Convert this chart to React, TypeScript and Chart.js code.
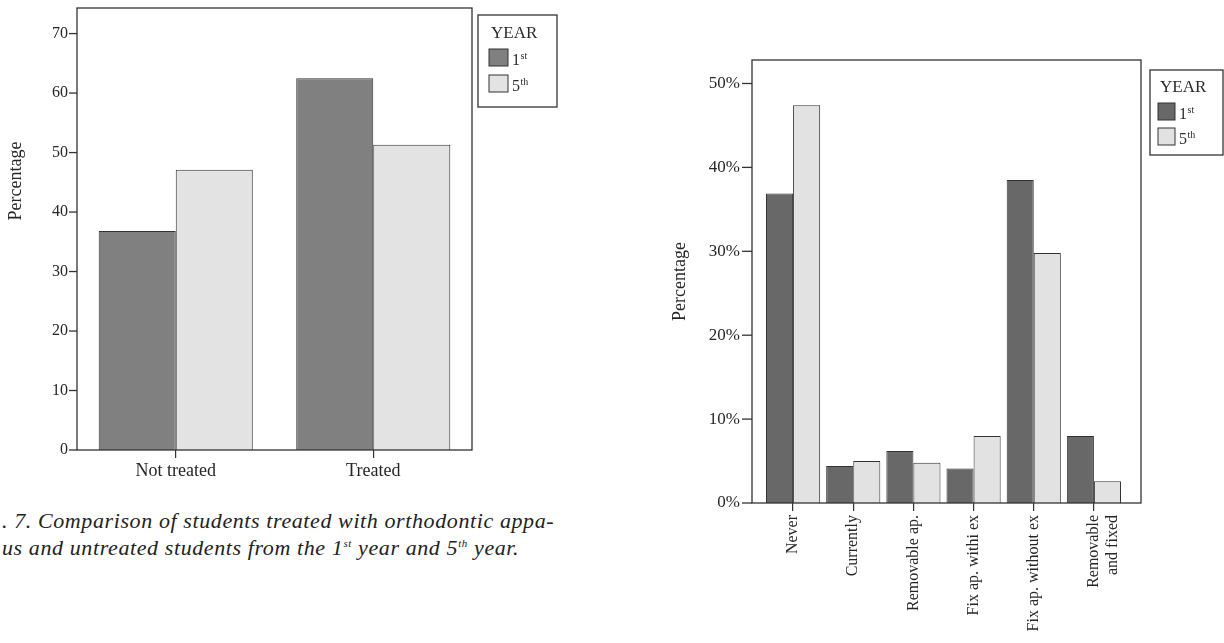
import React, { useEffect, useRef } from "react";
import { Chart, registerables } from "chart.js";

Chart.register(...registerables);

// ---------- data ----------
const legendTitle = "YEAR";
const seriesLabels = ["1st", "5th"];
const axisTitle = "Percentage";

const treatCategories = ["Not treated", "Treated"];
const treatFirst = [36.8, 62.5];
const treatFifth = [47.1, 51.3];
const treatTickValues = [0, 10, 20, 30, 40, 50, 60, 70];

const applianceCategories: (string | string[])[] = [
  "Never",
  "Currently",
  "Removable ap.",
  "Fix ap. withi ex",
  "Fix ap. without ex",
  ["Removable", "and fixed"],
];
const applianceFirst = [36.9, 4.4, 6.2, 4.1, 38.5, 8.0];
const applianceFifth = [47.4, 5.0, 4.8, 8.0, 29.8, 2.6];
const applianceTickValues = [0, 10, 20, 30, 40, 50];

const captionLine1 = ". 7. Comparison of students treated with orthodontic appa-";
const captionLine2a = "us and untreated students from the 1";
const captionLine2b = " year and 5";
const captionLine2c = " year.";

const SERIF = '"Liberation Serif", "DejaVu Serif", serif';

type LegendSpec = {
  gap: number;
  top: number;
  width: number;
  height: number;
  titleX: number;
  titleDy: number;
  titleSize: number;
  swatchX: number;
  swatchDy: number;
  swatchStep: number;
  swatchW: number;
  swatchH: number;
  labelX: number;
  labelSize: number;
};

type Opts = {
  labels: any[];
  first: number[];
  fifth: number[];
  colors: [string, string];
  tickValues: number[];
  yMax: number;
  percent: boolean;
  catPct: number;
  padding: { left: number; right: number; top: number; bottom: number };
  yWidth: number;
  xHeight: number;
  insetL: number;
  insetR: number;
  yTickLen: number;
  yTickFont: number;
  yTickPad: number;
  titleFont: number;
  titleX: number;
  titleY: number | null;
  xTickFont: number;
  xTickLen: number;
  xTickPad: number;
  rotate: boolean;
  legend: LegendSpec;
};

function framePlugin(o: Opts) {
  const legend = o.legend;
  return {
    id: "frameLegend",
    afterDraw(chart: any) {
      const ctx: CanvasRenderingContext2D = chart.ctx;
      const { left, right, top, bottom } = chart.chartArea;
      const fl = left - o.insetL;
      const fr = right + o.insetR;
      ctx.save();
      ctx.strokeStyle = "#333";
      ctx.lineWidth = 1.3;
      ctx.strokeRect(fl, top, fr - fl, bottom - top);
      const ys = chart.scales.y;
      ys.ticks.forEach((t: any) => {
        const y = ys.getPixelForValue(t.value);
        ctx.beginPath();
        ctx.moveTo(fl - o.yTickLen, y);
        ctx.lineTo(fl, y);
        ctx.stroke();
      });
      // axis title
      ctx.save();
      const ty = o.titleY == null ? (top + bottom) / 2 : o.titleY;
      ctx.translate(o.titleX, ty);
      ctx.rotate(-Math.PI / 2);
      ctx.fillStyle = "#262626";
      ctx.font = `${o.titleFont}px ${SERIF}`;
      ctx.textAlign = "center";
      ctx.textBaseline = "middle";
      ctx.fillText(axisTitle, 0, 0);
      ctx.restore();
      // legend
      const lx = fr + legend.gap;
      const ly = legend.top;
      ctx.lineWidth = 1.3;
      ctx.strokeStyle = "#333";
      ctx.strokeRect(lx, ly, legend.width, legend.height);
      ctx.fillStyle = "#2a2a2a";
      ctx.textBaseline = "alphabetic";
      ctx.textAlign = "left";
      ctx.font = `${legend.titleSize}px ${SERIF}`;
      ctx.fillText(legendTitle, lx + legend.titleX, ly + legend.titleDy);
      chart.data.datasets.forEach((ds: any, i: number) => {
        const sx = lx + legend.swatchX;
        const sy = ly + legend.swatchDy + i * legend.swatchStep;
        ctx.fillStyle = ds.backgroundColor;
        ctx.fillRect(sx, sy, legend.swatchW, legend.swatchH);
        ctx.lineWidth = 1;
        ctx.strokeStyle = "#333";
        ctx.strokeRect(sx, sy, legend.swatchW, legend.swatchH);
        const m = /^(\d+)(.*)$/.exec(String(ds.label));
        const base = m ? m[1] : String(ds.label);
        const sup = m ? m[2] : "";
        const bx = lx + legend.labelX;
        const by = sy + legend.swatchH - 1;
        ctx.fillStyle = "#2a2a2a";
        ctx.font = `${legend.labelSize}px ${SERIF}`;
        ctx.fillText(base, bx, by);
        const bw = ctx.measureText(base).width;
        ctx.font = `${Math.round(legend.labelSize * 0.6)}px ${SERIF}`;
        ctx.fillText(sup, bx + bw + 0.5, by - legend.labelSize * 0.4);
      });
      ctx.restore();
    },
  };
}

function makeConfig(o: Opts): any {
  const mk = (label: string, data: number[], color: string) => ({
    label,
    data,
    backgroundColor: color,
    borderColor: "#333",
    borderWidth: 1,
    barPercentage: 1,
    categoryPercentage: o.catPct,
  });
  return {
    type: "bar",
    data: {
      labels: o.labels,
      datasets: [
        mk(seriesLabels[0], o.first, o.colors[0]),
        mk(seriesLabels[1], o.fifth, o.colors[1]),
      ],
    },
    options: {
      animation: false,
      responsive: false,
      maintainAspectRatio: false,
      layout: { padding: o.padding },
      plugins: {
        legend: { display: false },
        tooltip: { enabled: false },
      },
      scales: {
        x: {
          grid: {
            display: true,
            drawOnChartArea: false,
            drawTicks: true,
            tickLength: o.xTickLen,
            offset: false,
            color: "#333",
            lineWidth: 1.2,
          },
          border: { display: false },
          ticks: {
            autoSkip: false,
            maxRotation: o.rotate ? 90 : 0,
            minRotation: o.rotate ? 90 : 0,
            padding: o.xTickPad,
            color: "#262626",
            font: { family: SERIF, size: o.xTickFont },
          },
          afterFit: (s: any) => {
            s.height = o.xHeight;
            s.paddingLeft = 0;
            s.paddingRight = 0;
            s.paddingTop = 0;
            s.paddingBottom = 0;
          },
        },
        y: {
          min: 0,
          max: o.yMax,
          grid: { display: false, drawTicks: false },
          border: { display: false },
          ticks: {
            stepSize: 10,
            padding: o.yTickPad,
            color: "#262626",
            font: { family: SERIF, size: o.yTickFont },
            callback: (v: any) => (o.percent ? `${v}%` : `${v}`),
          },
          afterBuildTicks: (axis: any) => {
            axis.ticks = o.tickValues.map((v) => ({ value: v }));
          },
          afterFit: (s: any) => {
            s.width = o.yWidth;
            s.paddingLeft = 0;
            s.paddingRight = 0;
            s.paddingTop = 0;
            s.paddingBottom = 0;
          },
        },
      },
    },
    plugins: [framePlugin(o)],
  };
}

function ChartCanvas({ config, width, height, left, top }: any) {
  const ref = useRef<HTMLCanvasElement | null>(null);
  useEffect(() => {
    if (!ref.current) return;
    const chart = new Chart(ref.current, config);
    return () => chart.destroy();
  }, []);
  return (
    <canvas
      ref={ref}
      width={width}
      height={height}
      style={{ position: "absolute", left, top, width, height }}
    />
  );
}

export default function App() {
  const leftConfig = makeConfig({
    labels: treatCategories,
    first: treatFirst,
    fifth: treatFifth,
    colors: ["#808080", "#e3e3e3"],
    tickValues: treatTickValues,
    yMax: 74.3,
    percent: false,
    catPct: 0.78,
    padding: { left: 0, right: 93, top: 8, bottom: 10 },
    yWidth: 77,
    xHeight: 40,
    insetL: 0,
    insetR: 0,
    yTickLen: 8,
    yTickFont: 16,
    yTickPad: 9,
    titleFont: 18,
    titleX: 16,
    titleY: 181,
    xTickFont: 18,
    xTickLen: 8,
    xTickPad: 2,
    rotate: false,
    legend: {
      gap: 6,
      top: 15,
      width: 79,
      height: 92,
      titleX: 13,
      titleDy: 23,
      titleSize: 17,
      swatchX: 11,
      swatchDy: 34,
      swatchStep: 26,
      swatchW: 19,
      swatchH: 17,
      labelX: 34,
      labelSize: 16,
    },
  });

  const rightConfig = makeConfig({
    labels: applianceCategories,
    first: applianceFirst,
    fifth: applianceFifth,
    colors: ["#686868", "#e2e2e2"],
    tickValues: applianceTickValues,
    yMax: 52.8,
    percent: true,
    catPct: 0.9,
    padding: { left: 0, right: 100, top: 20, bottom: 0 },
    yWidth: 123,
    xHeight: 140,
    insetL: 11,
    insetR: 17,
    yTickLen: 10,
    yTickFont: 17,
    yTickPad: 23,
    titleFont: 18,
    titleX: 40,
    titleY: null,
    xTickFont: 16,
    xTickLen: 8,
    xTickPad: 4,
    rotate: true,
    legend: {
      gap: 9,
      top: 30,
      width: 73,
      height: 85,
      titleX: 10,
      titleDy: 22,
      titleSize: 17,
      swatchX: 8,
      swatchDy: 33,
      swatchStep: 25,
      swatchW: 17,
      swatchH: 17,
      labelX: 29,
      labelSize: 16,
    },
  });

  return (
    <div
      style={{
        position: "absolute",
        left: 0,
        top: 0,
        width: 1224,
        height: 643,
        background: "#ffffff",
        overflow: "hidden",
      }}
    >
      <ChartCanvas config={leftConfig} width={565} height={500} left={0} top={0} />
      <ChartCanvas config={rightConfig} width={584} height={603} left={640} top={40} />
      <div
        style={{
          position: "absolute",
          left: 2,
          top: 509,
          fontFamily: SERIF,
          fontStyle: "italic",
          fontSize: 22,
          letterSpacing: "0.6px",
          lineHeight: "23px",
          color: "#222",
          whiteSpace: "nowrap",
        }}
      >
        <div>{captionLine1}</div>
        <div>
          {captionLine2a}
          <sup style={{ fontSize: 11 }}>st</sup>
          {captionLine2b}
          <sup style={{ fontSize: 11 }}>th</sup>
          {captionLine2c}
        </div>
      </div>
    </div>
  );
}
